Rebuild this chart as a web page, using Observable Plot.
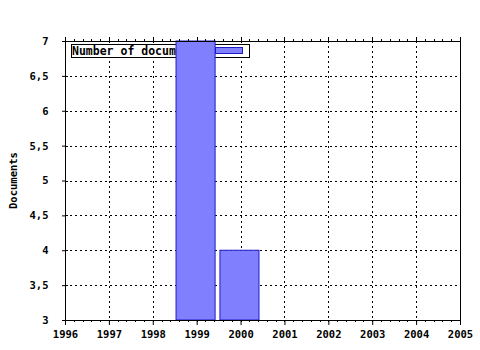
<!DOCTYPE html>
<html><head><meta charset="utf-8">
<script src="https://cdn.jsdelivr.net/npm/d3@7"></script>
<script src="https://cdn.jsdelivr.net/npm/@observablehq/plot@0.6"></script>
<style>body{margin:0;background:#fff}</style>
</head><body><div id="chart"></div>
<script>
const years = [1999, 2000];
const documents = [7, 4];
const xTicks = [1996, 1997, 1998, 1999, 2000, 2001, 2002, 2003, 2004, 2005];
const yTicks = [3, 3.5, 4, 4.5, 5, 5.5, 6, 6.5, 7];
const seriesName = "Number of documents";
const yLabel = "Documents";

const data = years.map((year, i) => ({year, value: documents[i]}));
const font = "'DejaVu Sans Mono', monospace";
const barFill = "#8080ff", barStroke = "#1c1cc8";
const fmtY = d => String(d).replace(".", ",");
const minorX = d3.range(xTicks[0], xTicks[xTicks.length - 1] + 0.001, 0.2);

function ticksMark(index, scales, values, dims) {
  const {x, y} = scales;
  const top = dims.marginTop, bottom = dims.height - dims.marginBottom, left = dims.marginLeft;
  const g = d3.create("svg:g").attr("stroke", "black").attr("fill", "none").attr("shape-rendering", "crispEdges");
  for (const v of minorX) {
    const px = Math.round(x(v)) + 0.5;
    g.append("line").attr("x1", px).attr("x2", px).attr("y1", bottom).attr("y2", bottom + 2);
    g.append("line").attr("x1", px).attr("x2", px).attr("y1", top).attr("y2", top - 2);
  }
  for (const v of xTicks) {
    const px = Math.round(x(v)) + 0.5;
    g.append("line").attr("x1", px).attr("x2", px).attr("y1", top).attr("y2", top - 4);
  }
  for (const v of yTicks) {
    const py = Math.round(y(v)) + 0.5;
    g.append("line").attr("x1", left).attr("x2", left + 3).attr("y1", py).attr("y2", py);
  }
  const cy = (top + bottom) / 2;
  g.append("text").attr("stroke", "none").attr("fill", "black")
    .attr("transform", `translate(${left - 48},${cy}) rotate(-90)`)
    .attr("text-anchor", "middle").attr("font-family", font).attr("font-weight", "bold")
    .attr("font-size", "10.5px").text(yLabel);
  return g.node();
}

function legendMark(index, scales, values, dims) {
  const x0 = dims.marginLeft + 6, y0 = dims.marginTop + 3;
  const g = d3.create("svg:g");
  g.append("rect").attr("x", x0 + 0.5).attr("y", y0 + 0.5).attr("width", 178).attr("height", 13)
    .attr("fill", "white").attr("stroke", "black");
  g.append("text").attr("x", x0 + 1).attr("y", y0 + 10.5).attr("font-family", font)
    .attr("text-anchor", "start")
    .attr("font-weight", "bold").attr("font-size", "11.5px").attr("fill", "black").text(seriesName);
  g.append("rect").attr("x", x0 + 144.5).attr("y", y0 + 3.5).attr("width", 27).attr("height", 6)
    .attr("fill", barFill).attr("stroke", barStroke);
  return g.node();
}

const chart = Plot.plot({
  width: 480, height: 350,
  marginLeft: 65, marginRight: 20, marginTop: 41, marginBottom: 30,
  style: {fontFamily: font, fontSize: "10.5px", fontWeight: "bold", color: "black", background: "white"},
  x: {domain: [xTicks[0], xTicks[xTicks.length - 1]], ticks: xTicks, tickSize: 5, tickPadding: 5, tickFormat: d => String(d), label: null},
  y: {domain: [yTicks[0], yTicks[yTicks.length - 1]], ticks: yTicks, tickSize: 3, tickPadding: 14, tickFormat: fmtY, label: null},
  marks: [
    Plot.ruleY(yTicks.slice(1, -1), {stroke: "black", strokeDasharray: "2,3", strokeWidth: 1, shapeRendering: "crispEdges"}),
    Plot.ruleX(xTicks.slice(1, -1), {stroke: "black", strokeDasharray: "2,3", strokeWidth: 1, shapeRendering: "crispEdges"}),
    legendMark,
    Plot.rectY(data, {x1: d => d.year - 0.47, x2: d => d.year + 0.42, y1: yTicks[0], y2: "value",
      fill: barFill, stroke: barStroke, strokeWidth: 1}),
    Plot.frame({stroke: "black"}),
    ticksMark
  ]
});
document.getElementById("chart").append(chart);
</script>
</body></html>
